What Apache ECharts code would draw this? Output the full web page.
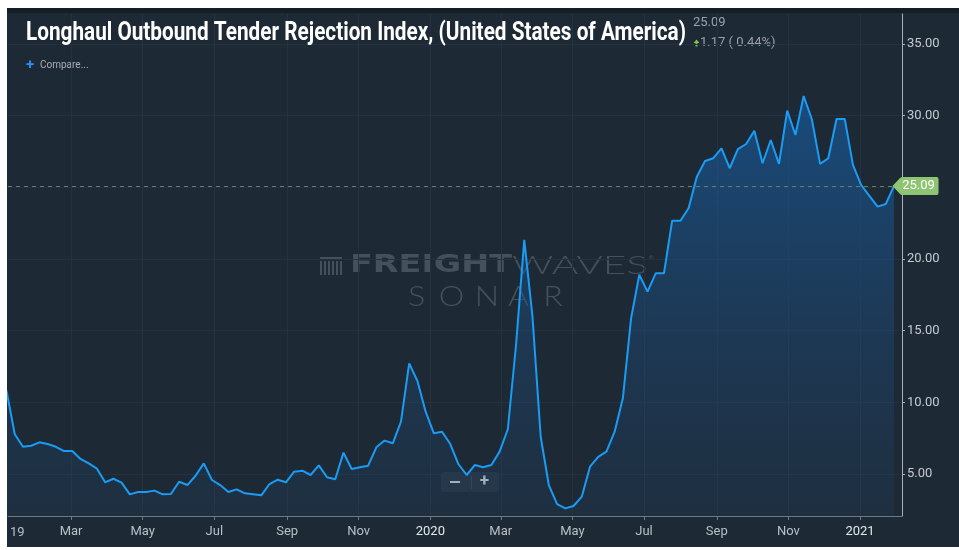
<!DOCTYPE html>
<html>
<head>
<meta charset="utf-8">
<script src="https://cdn.jsdelivr.net/npm/echarts@6/dist/echarts.min.js"></script>
<style>
html, body { margin: 0; padding: 0; background: #fff; }
#chart { position: absolute; left: 7px; top: 8px; width: 952px; height: 539px; }
</style>
</head>
<body>
<div id="chart"></div>
<script>
// weekly readings, first week starting 2019-01-05
var firstWeek = [2019, 0, 5];
var rejectionIdx = [
    10.8, 7.77, 6.90, 6.97, 7.21, 7.09, 6.90, 6.60, 6.60, 6.05,
    5.74, 5.37, 4.42, 4.67, 4.40, 3.58, 3.74, 3.74, 3.84, 3.58,
    3.60, 4.46, 4.23, 4.88, 5.74, 4.58, 4.23, 3.74, 3.93, 3.65,
    3.58, 3.51, 4.30, 4.60, 4.42, 5.16, 5.23, 4.93, 5.60, 4.77,
    4.63, 6.49, 5.35, 5.47, 5.58, 6.86, 7.33, 7.14, 8.65, 12.72,
    11.49, 9.35, 7.84, 7.95, 7.09, 5.68, 4.93, 5.63, 5.47, 5.63,
    6.56, 8.12, 14.0, 21.33, 16.0, 7.6, 4.2, 2.9, 2.6, 2.77,
    3.42, 5.51, 6.2, 6.56, 7.95, 10.28, 15.86, 18.9, 17.72, 19.0,
    19.0, 22.67, 22.67, 23.54, 25.74, 26.84, 27.03, 27.72, 26.33, 27.67,
    28.02, 28.95, 26.68, 28.30, 26.63, 30.35, 28.65, 31.37, 29.75, 26.63,
    27.03, 29.77, 29.77, 26.56, 25.16, 24.40, 23.65, 23.84, 25.09
];
var tickDates = ['2019-03-01', '2019-05-01', '2019-07-01', '2019-09-01', '2019-11-01', '2020-01-01',
                 '2020-03-01', '2020-05-01', '2020-07-01', '2020-09-01', '2020-11-01', '2021-01-01'];
var tickLabels = ['Mar', 'May', 'Jul', 'Sep', 'Nov', '2020', 'Mar', 'May', 'Jul', 'Sep', 'Nov', '2021'];
var yTicks = [5, 10, 15, 20, 25, 30, 35];
var yLabels = [5, 10, 15, 20, 30, 35];
var lastValue = 25.09;
var change = '1.17';
var changePct = '0.44%';
var titleText = 'Longhaul Outbound Tender Rejection Index, (United States of America)';

var DAY = 86400000;
function utc(s) {
    var p = s.split('-');
    return Date.UTC(+p[0], +p[1] - 1, +p[2]);
}
var start = Date.UTC(firstWeek[0], firstWeek[1], firstWeek[2]);
var points = rejectionIdx.map(function (v, i) { return [start + i * 7 * DAY, v]; });
var tickTimes = tickDates.map(utc);
var labelOf = {};
tickTimes.forEach(function (t, i) { labelOf[t] = tickLabels[i]; });

var ctx = document.createElement('canvas').getContext('2d');
function textW(font, s) { ctx.font = font; return ctx.measureText(s).width; }

var titleFont = 'bold 25px Roboto, sans-serif';
var fwFont = 'bold 24px "DejaVu Sans", sans-serif';
var wvFont = '300 25px Lato, sans-serif';
var snFont = '300 28px Lato, sans-serif';
var wm = 'rgba(150,160,170,0.33)';

var logoBars = [];
for (var b = 0; b < 6; b++) {
    logoBars.push({ type: 'rect', shape: { x: 313 + b * 4, y: 253, width: 2, height: 14 }, style: { fill: wm } });
}
logoBars.push({ type: 'rect', shape: { x: 313, y: 249, width: 22, height: 2 }, style: { fill: wm } });

var sonar = 'SONAR'.split('');
var sonarX = [409.5, 444.5, 480, 511.5, 546];
var sonarEls = sonar.map(function (ch, i) {
    return { type: 'text', x: sonarX[i], y: 289, scaleX: 1.15,
             style: { text: ch, font: snFont, fill: wm, textAlign: 'center', textVerticalAlign: 'middle' } };
});

var chart = echarts.init(document.getElementById('chart'));
chart.setOption({
    animation: false,
    backgroundColor: '#1d2a35',
    grid: { left: 1, right: 57, top: 6, bottom: 31 },
    xAxis: {
        type: 'value',
        min: Date.UTC(2019, 0, 1) + 5.24 * DAY,
        max: Date.UTC(2021, 0, 1) + 35.78 * DAY,
        axisLine: { lineStyle: { color: '#6f7981', width: 1 } },
        axisTick: { show: true, customValues: tickTimes, length: 4, lineStyle: { color: '#6f7981' } },
        axisLabel: {
            customValues: tickTimes,
            color: '#b9bfc5',
            fontSize: 13,
            fontFamily: 'Roboto',
            margin: 9,
            formatter: function (v) {
                var s = labelOf[v] || '';
                return /^\d+$/.test(s) ? '{y|' + s + '}' : s;
            },
            rich: { y: { color: '#e6e8ea', fontSize: 13, fontFamily: 'Roboto' } }
        },
        splitLine: { show: true, lineStyle: { color: '#243240', width: 1 } }
    },
    yAxis: {
        type: 'value',
        position: 'right',
        min: 2.07,
        max: 37.09,
        axisLine: { show: true, lineStyle: { color: '#aab0b6' } },
        axisTick: { show: true, customValues: yTicks, length: 3, lineStyle: { color: '#aab0b6' } },
        axisLabel: {
            customValues: yLabels,
            color: '#c5cad0',
            fontSize: 13,
            fontFamily: 'Roboto',
            margin: 5,
            formatter: function (v) { return v.toFixed(2); }
        },
        splitLine: { show: true, lineStyle: { color: '#243240', width: 1 } }
    },
    series: [{
        type: 'line',
        data: points,
        symbol: 'none',
        lineStyle: { color: '#1a9cf5', width: 2 },
        areaStyle: {
            color: new echarts.graphic.LinearGradient(0, 0, 0, 1, [
                { offset: 0, color: 'rgba(22,96,170,0.88)' },
                { offset: 1, color: 'rgba(35,70,115,0.25)' }
            ])
        },
        markLine: {
            silent: true,
            symbol: 'none',
            label: { show: false },
            lineStyle: { color: '#6d7d6a', type: [4, 4], width: 1 },
            data: [{ yAxis: lastValue }]
        },
        markPoint: {
            silent: true,
            z: 5,
            data: [{
                coord: [points[points.length - 1][0], lastValue],
                symbol: 'path://M0,9L7,1.5Q8,0 10,0L44,0Q46,0 46,2L46,16Q46,18 44,18L10,18Q8,18 7,16.5Z',
                symbolSize: [46, 18],
                symbolOffset: [21.5, 0],
                itemStyle: { color: '#8dc572' },
                label: {
                    show: true, position: 'inside', offset: [3, 0],
                    formatter: lastValue.toFixed(2),
                    color: '#fff', fontSize: 13, fontFamily: 'Roboto'
                }
            }]
        }
    }],
    graphic: [
        { type: 'rect', shape: { x: 0, y: 0, width: 952, height: 5 }, style: { fill: '#141e27' } },
        { type: 'text', z: 10, x: 19, y: 26, scaleX: 660 / textW(titleFont, titleText),
          style: { text: titleText, font: titleFont, fill: '#ffffff', textVerticalAlign: 'middle' } },
        { type: 'text', x: 686, y: 15,
          style: { text: lastValue.toFixed(2), font: '13px Roboto', fill: '#9aa1a8', textVerticalAlign: 'middle' } },
        { type: 'polygon', shape: { points: [[689.5, 31.5], [686.5, 35], [688.5, 35], [688.5, 38.5], [690.5, 38.5], [690.5, 35], [692.5, 35]] },
          style: { fill: '#7cc24e' } },
        { type: 'text', x: 693, y: 35,
          style: { text: change + ' ( ' + changePct + ')', font: '13px Roboto', fill: '#9aa1a8', textVerticalAlign: 'middle' } },
        { type: 'text', x: 19, y: 57,
          style: { text: '+', font: 'bold 15px Roboto', fill: '#2f8ef4', textVerticalAlign: 'middle' } },
        { type: 'text', x: 33, y: 57,
          style: { text: 'Compare...', font: '10px Roboto', fill: '#a7aeb4', textVerticalAlign: 'middle' } },
        { type: 'text', x: 3, y: 525,
          style: { text: '19', font: '13px Roboto', fill: '#b9bfc5', textVerticalAlign: 'middle' } },
        // watermark
        { type: 'group', z: 100, silent: true, children: logoBars.concat([
            { type: 'text', x: 343, y: 258, scaleX: 162 / textW(fwFont, 'FREIGHT'),
              style: { text: 'FREIGHT', font: fwFont, fill: wm, textVerticalAlign: 'middle' } },
            { type: 'text', x: 505, y: 258, scaleX: 136 / textW(wvFont, 'WAVES'),
              style: { text: 'WAVES', font: wvFont, fill: wm, textVerticalAlign: 'middle' } },
            { type: 'text', x: 642, y: 250,
              style: { text: '®', font: '6px Roboto', fill: wm, textVerticalAlign: 'middle' } }
        ]).concat(sonarEls) },
        // zoom control
        { type: 'group', z: 100, children: [
            { type: 'rect', shape: { x: 434, y: 464, width: 58, height: 20, r: 3 }, style: { fill: '#27333e' } },
            { type: 'rect', shape: { x: 464, y: 468, width: 1, height: 13 }, style: { fill: '#3a4651' } },
            { type: 'rect', shape: { x: 443, y: 473, width: 10, height: 2 }, style: { fill: '#c7cbd0' } },
            { type: 'text', x: 477.5, y: 474,
              style: { text: '+', font: 'bold 17px Roboto', fill: '#c7cbd0', textAlign: 'center', textVerticalAlign: 'middle' } }
        ] }
    ]
});
</script>
</body>
</html>
